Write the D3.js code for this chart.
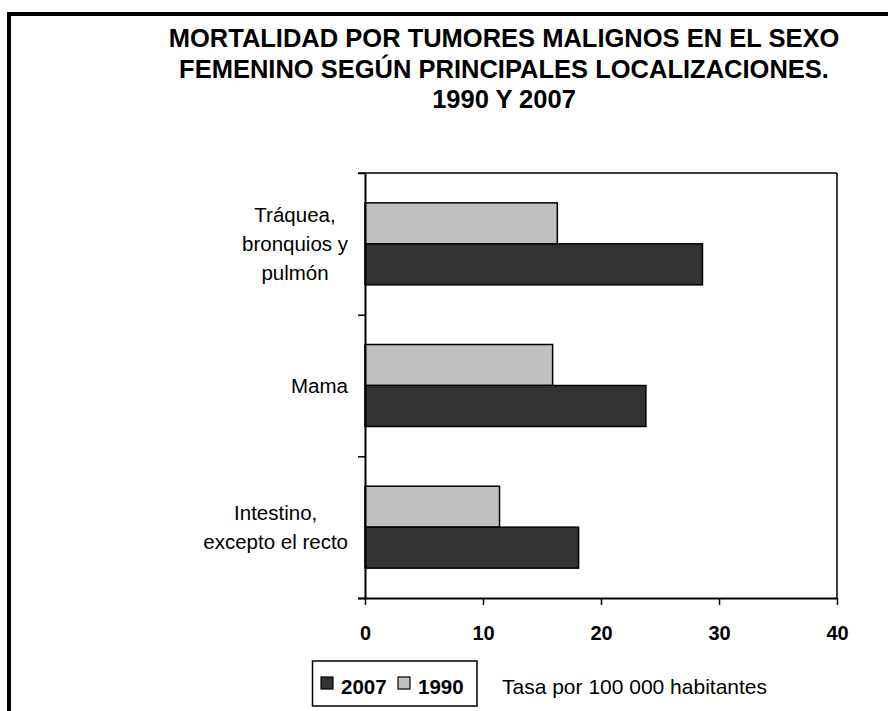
<!DOCTYPE html>
<html><head><meta charset="utf-8">
<script src="https://cdn.jsdelivr.net/npm/d3@7"></script>
<style>
html,body{margin:0;padding:0;background:#fff;}
svg{display:block;font-family:"Liberation Sans",Arial,sans-serif;}
</style></head>
<body>
<svg id="c" width="888" height="711"></svg>
<script>
const titleLines = ["MORTALIDAD POR TUMORES MALIGNOS EN EL SEXO","FEMENINO SEGÚN PRINCIPALES LOCALIZACIONES.","1990 Y 2007"];
const categories = ["Tráquea, bronquios y pulmón","Mama","Intestino, excepto el recto"];
const categoryLines = [["Tráquea,","bronquios y","pulmón"],["Mama"],["Intestino,","excepto el recto"]];
const series = ["1990","2007"];
const values1990 = [16.3, 15.9, 11.4];
const values2007 = [28.6, 23.8, 18.1];
const xTicks = [0,10,20,30,40];
const legendOrder = ["2007","1990"];
const unitLabel = "Tasa por 100 000 habitantes";
const colors = {"1990":"#c0c0c0","2007":"#333333"};

const svg = d3.select("#c");
// outer frame
svg.append("path").attr("d","M9,720 L9,14 L900,14").attr("fill","none").attr("stroke","#000").attr("stroke-width",4);

// title
svg.append("g").selectAll("text").data(titleLines).join("text")
  .attr("x",504).attr("y",(d,i)=>47+i*30.5).attr("text-anchor","middle")
  .attr("font-size",25.5).attr("font-weight","bold").attr("fill","#000").text(d=>d);

const L=365,R=837,T=173,B=598;
const x = d3.scaleLinear().domain([0,40]).range([L,R]);
const y0 = d3.scaleBand().domain(categories).range([T,B]).padding(0);
const y1 = d3.scaleBand().domain(series).range([0,y0.bandwidth()]).paddingInner(0).paddingOuter(0.728);

const data = categories.map((c,i)=>({cat:c, vals:[{s:"1990",v:values1990[i]},{s:"2007",v:values2007[i]}]}));

// top & right frame of plot
svg.append("line").attr("x1",358).attr("x2",R).attr("y1",T).attr("y2",T).attr("stroke","#000").attr("stroke-width",1.5);
svg.append("line").attr("x1",R).attr("x2",R).attr("y1",T).attr("y2",B).attr("stroke","#000").attr("stroke-width",1.5);

// bars
const g = svg.append("g");
g.selectAll("g").data(data).join("g")
  .attr("transform",d=>`translate(0,${y0(d.cat)})`)
  .selectAll("rect").data(d=>d.vals).join("rect")
  .attr("x",x(0)).attr("y",d=>y1(d.s)).attr("width",d=>x(d.v)-x(0)).attr("height",y1.bandwidth())
  .attr("fill",d=>colors[d.s]).attr("stroke","#000").attr("stroke-width",1.5);

// x axis
const xa = svg.append("g").attr("transform",`translate(0,${B})`)
  .call(d3.axisBottom(x).tickValues(xTicks).tickSize(7).tickSizeOuter(0).tickPadding(21));
xa.select(".domain").attr("stroke","#000").attr("stroke-width",2).attr("d",`M${358},0.5H${R}`);
xa.selectAll(".tick line").attr("stroke","#000").attr("stroke-width",1.5);
xa.selectAll("text").attr("font-size",20).attr("font-weight","bold").attr("fill","#000").attr("font-family","Liberation Sans, Arial, sans-serif");

// y axis (ticks at category boundaries)
const yb = d3.scaleLinear().domain([0,categories.length]).range([B,T]);
const ya = svg.append("g").attr("transform",`translate(${L},0)`)
  .call(d3.axisLeft(yb).ticks(categories.length).tickSize(7).tickSizeOuter(0).tickFormat(""));
ya.select(".domain").attr("stroke","#000").attr("stroke-width",2);
ya.selectAll(".tick line").attr("stroke","#000").attr("stroke-width",1.5);

// category labels
const lab = svg.append("g").attr("font-size",20.5).attr("fill","#000");
data.forEach((d,i)=>{
  const lines = categoryLines[i];
  const t = lab.append("text").attr("text-anchor","middle");
  const lh = 29;
  const cy = y0(d.cat)+y0.bandwidth()/2;
  lines.forEach((ln,j)=>{
    t.append("tspan").attr("x",0).attr("y",cy + 7 + (j-(lines.length-1)/2)*lh).text(ln);
  });
  let maxW = 0;
  t.selectAll("tspan").each(function(){maxW=Math.max(maxW,this.getComputedTextLength());});
  t.selectAll("tspan").attr("x",348-maxW/2);
});

// legend
const lg = svg.append("g");
lg.append("rect").attr("x",312.5).attr("y",661).attr("width",164.5).attr("height",45).attr("fill","#fff").attr("stroke","#000").attr("stroke-width",1.5);
const lx = [321,398];
legendOrder.forEach((s,i)=>{
  lg.append("rect").attr("x",lx[i]).attr("y",677).attr("width",12).attr("height",12).attr("fill",colors[s]).attr("stroke","#000").attr("stroke-width",1.2);
  lg.append("text").attr("x",lx[i]+20).attr("y",694).attr("font-size",20.5).attr("font-weight","bold").attr("fill","#000").text(s);
});
svg.append("text").attr("x",502).attr("y",694).attr("font-size",21).attr("fill","#000").text(unitLabel);
</script>
</body></html>
